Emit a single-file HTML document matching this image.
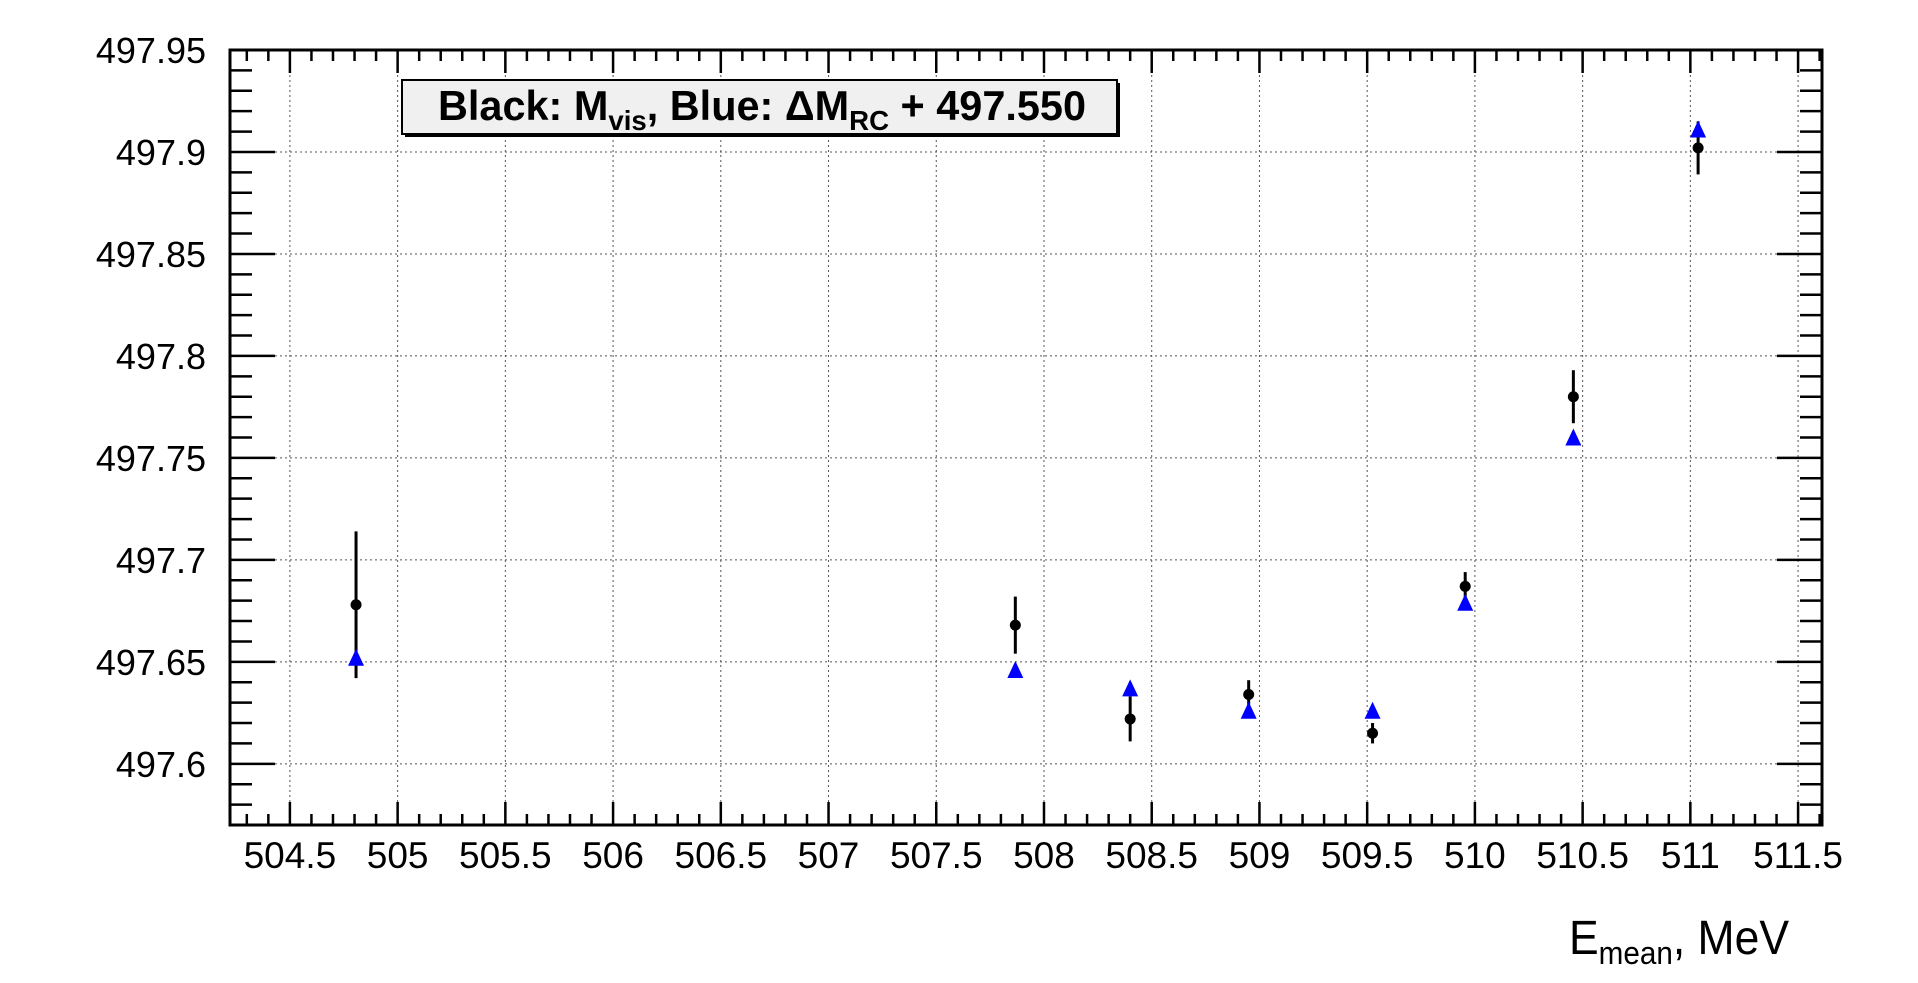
<!DOCTYPE html>
<html><head><meta charset="utf-8"><style>
html,body{margin:0;padding:0;background:#fff;}
svg{display:block;font-family:"Liberation Sans",Arial,sans-serif;}
</style></head><body>
<svg id="chart" width="1918" height="983" viewBox="0 0 1918 983" xmlns="http://www.w3.org/2000/svg">
<rect x="0" y="0" width="1918" height="983" fill="#fff"/>
<g id="grid"></g>
<g id="ticks"></g>
<g id="labels"></g>
<g id="marks"></g>
<rect x="230" y="50" width="1592" height="775" fill="none" stroke="#000" stroke-width="3"/>
<g>
<rect x="405" y="83" width="715" height="54" fill="#000"/>
<rect x="402" y="80" width="715" height="54" fill="#f0f0f0" stroke="#000" stroke-width="2"/>
<text x="438" y="120" font-size="42" font-weight="bold" textLength="648" lengthAdjust="spacingAndGlyphs">Black: M<tspan font-size="28" dy="10">vis</tspan><tspan dy="-10">, Blue: ΔM</tspan><tspan font-size="28" dy="10">RC</tspan><tspan dy="-10"> + 497.550</tspan></text>
</g>
<text x="1569" y="954" font-size="48" textLength="220" lengthAdjust="spacingAndGlyphs">E<tspan font-size="32" dy="10">mean</tspan><tspan dy="-10">, MeV</tspan></text>
</svg>
<script>
const energies = [504.807, 507.867, 508.40, 508.95, 509.525, 509.955, 510.457, 511.036];
const massVis = [497.678, 497.668, 497.622, 497.634, 497.615, 497.687, 497.780, 497.902];
const massVisErr = [0.036, 0.014, 0.011, 0.007, 0.005, 0.007, 0.013, 0.013];
const massRC = [497.652, 497.646, 497.637, 497.626, 497.626, 497.679, 497.760, 497.911];
const xTickLabels = ["504.5","505","505.5","506","506.5","507","507.5","508","508.5","509","509.5","510","510.5","511","511.5"];
const yTickLabels = ["497.6","497.65","497.7","497.75","497.8","497.85","497.9","497.95"];

const X0=230,X1=1822,Y0=50,Y1=825;
const xmin=504.222,xmax=511.611,ymin=497.570,ymax=497.95;
const sx=v=>X0+(v-xmin)/(xmax-xmin)*(X1-X0);
const sy=v=>Y1-(v-ymin)/(ymax-ymin)*(Y1-Y0);
const NS="http://www.w3.org/2000/svg";
function mk(tag,parent,attrs){const e=document.createElementNS(NS,tag);for(const k in attrs)e.setAttribute(k,attrs[k]);document.getElementById(parent).appendChild(e);return e;}

for(let i=0;i<=75;i++){
  const v=504.2+i*0.1; if(v<xmin-1e-6||v>xmax+1e-6) continue;
  const x=sx(v); const major=Math.abs(v*2-Math.round(v*2))<1e-6; const L=major?23:11;
  const t1=mk('line','ticks',{x1:x,x2:x,y1:Y1,y2:Y1-L,stroke:'#000','stroke-width':2.5});
  
  
  const t2=mk('line','ticks',{x1:x,x2:x,y1:Y0,y2:Y0+L,stroke:'#000','stroke-width':2.5});
  
  
}
xTickLabels.forEach(s=>{
  const x=sx(parseFloat(s));
  const g=mk('line','grid',{x1:x,x2:x,y1:Y0,y2:Y1,stroke:'#555','stroke-width':1,'stroke-dasharray':'2,3'});
  
  
  const t=mk('text','labels',{x:x,y:868,'font-size':37,'text-anchor':'middle'});
  t.textContent=s;
  
  
});
for(let i=0;i<=40;i++){
  const v=497.57+i*0.01; if(v>ymax+1e-6) continue;
  const y=sy(v); const major=Math.abs(v*20-Math.round(v*20))<1e-6; const L=major?45:22;
  const t1=mk('line','ticks',{x1:X0,x2:X0+L,y1:y,y2:y,stroke:'#000','stroke-width':2.5});
  
  
  const t2=mk('line','ticks',{x1:X1,x2:X1-L,y1:y,y2:y,stroke:'#000','stroke-width':2.5});
  
  
}
yTickLabels.forEach(s=>{
  const y=sy(parseFloat(s));
  const g=mk('line','grid',{x1:X0,x2:X1,y1:y,y2:y,stroke:'#555','stroke-width':1,'stroke-dasharray':'2,3'});
  
  
  const t=mk('text','labels',{x:206,y:y+13,'font-size':36,'text-anchor':'end'});
  t.textContent=s;
  
  
});
energies.forEach((e,i)=>{
  const x=sx(e);
  const eb=mk('line','marks',{x1:x,x2:x,y1:sy(massVis[i]+massVisErr[i]),y2:sy(massVis[i]-massVisErr[i]),stroke:'#000','stroke-width':3});
  
  
  const c=mk('circle','marks',{cx:x,cy:sy(massVis[i]),r:5.5,fill:'#000'});
  
  
  const yb=sy(massRC[i]);
  const p=mk('polygon','marks',{points:`${x-8},${yb+8} ${x+8},${yb+8} ${x},${yb-9}`,fill:'#0000ff'});
  
  
});
</script>
</body></html>
